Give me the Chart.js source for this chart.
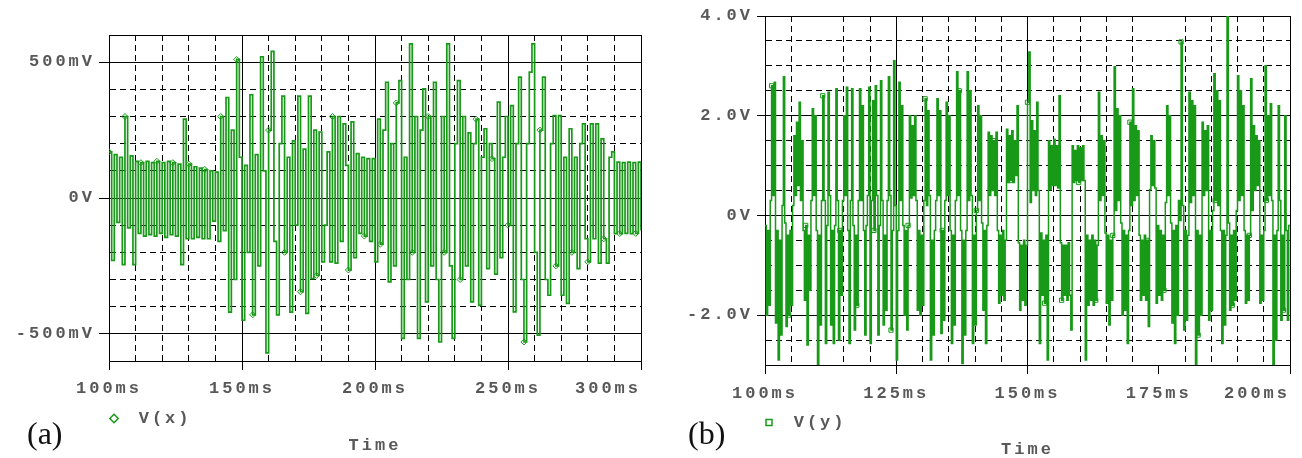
<!DOCTYPE html>
<html>
<head>
<meta charset="utf-8">
<title>V(x) / V(y)</title>
<script src="https://cdn.jsdelivr.net/npm/chart.js@4.4.1/dist/chart.umd.min.js"></script>
<style>
  html, body { margin: 0; padding: 0; background: #fff; }
  #wrap { position: relative; width: 1302px; height: 458px; overflow: hidden; background: #fff; }
  canvas { position: absolute; top: 0; }
  #chartA { left: 0; }
  #chartB { left: 662px; }
  .tag {
    position: absolute;
    font-family: 'Liberation Serif', 'DejaVu Serif', serif;
    font-size: 32px;
    line-height: 1;
    color: #111;
  }
</style>
</head>
<body>
<div id="wrap">
  <canvas id="chartA" width="662" height="458"></canvas>
  <canvas id="chartB" width="640" height="458"></canvas>
  <div class="tag" style="left:27px;top:417px">(a)</div>
  <div class="tag" style="left:688px;top:417px">(b)</div>
</div>
<script>
// V(x) in mV, one level per 1 ms, starting at 100 ms
const vxStart = 100;
const vxStep = 1;
const vx = [
  170, -230, 160, -90, 150, -245, 300, -110, 155, -245,
  135, -130, 130, -140, 135, -135, 130, -140, 135, -130,
  130, -145, 135, -135, 130, -140, 125, -245, 290, -150,
  125, -150, 115, -145, 110, -150, 105, -150, 100, -85,
  95, -160, 300, -120, 370, -420, 250, -300, 510, 150,
  -450, 120, -200, 380, -430, 160, -250, 520, 100, -570,
  250, 540, -160, -430, 200, 375, -200, 150, -420, 210,
  -100, 375, -345, 180, -425, 375, -297, 250, -285, 243,
  -235, -100, 170, -235, 300, -240, 300, -160, 273, 120,
  -265, 280, -220, 163, -130, 150, -140, 145, -160, 145,
  -235, 290, -170, 250, 426, -309, 200, -250, 350, 432,
  -517, 150, -300, 567, -200, 300, -517, 250, 402, -382,
  300, -250, 426, -300, -530, 300, -200, 567, -250, -517,
  200, 432, -300, 300, -250, 240, -382, 200, 290, -395,
  150, 255, -260, 200, 145, -280, 353, -220, 150, 300,
  -100, 340, -419, 200, 445, -300, -530, 200, 463, 567,
  -200, -505, 250, 445, -300, -358, 200, 303, -250, 303,
  -358, 150, -388, 255, -200, 150, -260, 200, 273, -150,
  -235, 273, -150, 273, -240, 218, -150, -240, 150, 170,
  -131, 132, -131, 130, -130, 132, -131, 130, -130, 132,
  -120
];

// V(y) in V, one level per 0.25 ms (four per row = 1 ms), starting at 100 ms
const vyStart = 100;
const vyStep = 0.25;
const vy = [
  -0.2, -2.0, -0.3, -1.8,     // 100
  0.3, 2.6, 0.4, 2.67,
  -2.16, -0.3, -2.9, -0.5,
  -2.4, 0.2, 2.78, -0.15,
  -2.23, -0.4, -2.0, -0.3,
  -1.8, 0.2, 1.6, 0.4,        // 105
  1.87, 0.6, 2.27, 0.3,
  1.5, -0.3, -1.7, -0.2,
  -2.6, -0.4, -1.5, 0.3,
  2.14, 0.4, 2.0, -0.3,
  -3.0, -0.4, -2.2, 0.3,      // 110
  2.4, 0.3, -2.57, -0.2,
  2.47, 0.4, -2.2, -0.3,
  -2.57, -0.2, 2.54, 0.3,
  -2.5, -0.3, -1.6, 0.3,
  2.0, 0.4, 2.57, -0.3,       // 115
  -2.57, 0.3, 2.54, -0.2,
  -2.3, -0.4, -1.8, 0.3,
  2.54, 0.3, 2.2, -0.3,
  -2.4, -0.2, 0.4, 2.57,
  -2.57, 0.3, 2.3, -0.3,      // 120
  2.6, 0.4, -2.4, -0.2,
  2.7, 0.3, -2.2, -0.4,
  -1.9, 0.3, 2.78, 0.4,
  -2.3, -0.3, 3.1, 0.2,
  -2.9, -0.3, 2.67, 0.3,      // 125
  2.2, -0.2, -2.0, -0.3,
  -2.3, -0.2, 2.0, 0.35,
  1.8, 0.4, 2.0, 0.3,
  -1.9, -0.3, -2.0, -0.4,
  -1.8, 0.3, 2.34, 0.2,       // 130
  2.1, 0.4, -2.9, -0.5,
  -2.4, -0.3, 0.3, 2.34,
  0.4, 2.1, -2.37, -0.3,
  -2.1, 0.3, 2.27, 0.4,
  2.0, -0.3, -2.57, -0.4,     // 135
  -2.2, 0.3, 2.88, 0.4,
  2.5, -0.3, -2.97, -0.5,
  -2.4, -0.3, 2.88, 0.3,
  2.5, 0.4, -2.57, -0.4,
  -2.2, 0.1, 2.2, 0.3,        // 140
  2.0, -0.15, -1.9, -0.3,
  -2.57, -0.2, 1.67, 0.4,
  1.6, 0.5, 1.5, 0.4,
  1.67, -0.3, -1.76, -0.4,
  -1.6, -0.3, -1.7, -0.5,     // 145
  1.73, 0.66, 1.6, 0.7,
  1.7, 0.66, 1.5, 0.8,
  2.2, -0.55, -1.9, -0.6,
  -1.7, -0.5, -1.8, -0.6,
  2.27, 3.28, 0.26, 1.9,      // 150
  0.5, 1.7, 0.4, 2.27,
  0.5, -2.57, -0.35, -1.6,
  -0.5, -1.76, -0.4, -2.9,
  1.5, 0.52, 1.4, 0.6,
  1.53, 0.6, 1.4, 0.55,       // 155
  2.4, -0.55, -1.7, -0.6,
  -1.6, -0.6, -1.7, -0.55,
  -1.6, -2.3, 1.4, 0.66,
  1.3, 0.7, 1.4, 0.66,
  1.35, 0.7, 1.4, 0.7,        // 160
  -2.9, -0.4, -1.8, -0.5,
  -1.7, -0.4, -1.8, -0.5,
  -1.7, -0.6, 2.47, 0.3,
  1.6, 0.4, 1.5, -0.35,
  -1.76, -0.4, -2.2, -0.5,    // 165
  -1.7, -0.4, 2.98, 0.1,
  2.14, 0.3, 2.0, -0.15,
  -2.0, -0.3, -1.9, -0.4,
  -2.57, -0.3, 1.87, 0.2,
  2.54, 0.3, 1.8, 0.4,        // 170
  1.7, -0.4, -1.7, -0.5,
  -1.6, -0.4, -1.7, -0.5,
  -2.23, 0.52, 1.6, 0.6,
  1.5, 0.55, -1.76, -0.2,
  -1.6, -0.3, -1.7, -0.4,     // 175
  -1.5, 0.26, 2.2, 0.4,
  2.0, -0.15, -2.16, -0.3,
  -2.57, -0.2, -2.0, 0.3,
  -0.1, 3.48, 0.2, -2.3,
  -0.3, -2.1, -0.4, 2.47,     // 180
  0.26, 2.3, 0.4, 2.2,
  -3.0, -0.3, -2.4, -0.4,
  -2.0, 1.87, 0.4, 1.7,
  0.5, 1.8, -2.1, -0.3,
  -1.9, 0.1, 2.84, 0.3,       // 185
  2.5, 0.2, 2.3, -0.3,
  -2.57, -0.3, -2.2, -0.4,
  4.0, -0.15, -1.9, -0.4,
  -1.8, -0.3, -1.7, 0.1,
  2.8, 0.3, 2.5, 0.4,         // 190
  2.2, -0.3, -1.76, -0.4,
  -1.7, -0.4, 2.74, 0.1,
  1.8, 0.5, 1.6, 0.6,
  1.5, -1.76, -0.4, -1.7,
  -0.3, 3.0, 0.3, 2.0,        // 195
  0.4, 2.24, 0.3, -3.0,
  -0.4, -2.5, -0.3, 2.2,
  0.3, -2.1, -0.4, -1.9,
  2.0, -0.3, -2.1, -0.2,
  -0.2                        // 200
];

// labelled ticks
const timeLabelsA = [100, 150, 200, 250, 300];
const timeLabelsB = [100, 125, 150, 175, 200];
const voltLabelsA = [-500, 0, 500];
const voltLabelsB = [-2, 0, 2, 4];
// time grid lines that the probe window leaves out
const noGridB = [110, 175];

const TRACE = 'rgb(24,154,24)';
const GRAY = '#585858';
const MONO = { family: "'Liberation Mono', 'DejaVu Sans Mono', monospace", size: 17, weight: 'bold' };
const CLEAR = 'rgba(0,0,0,0)';

// the probe font is widely spaced, canvas needs it set on every pass
const spacing = {
  id: 'spacing',
  beforeUpdate(chart) { chart.ctx.letterSpacing = '3px'; },
  beforeLayout(chart) { chart.ctx.letterSpacing = '3px'; },
  beforeDraw(chart) { chart.ctx.letterSpacing = '3px'; }
};

function toPoints(values, start, step) {
  return values.map((v, i) => ({ x: start + i * step, y: v }));
}

function tickValue(ctx) {
  return ctx && ctx.tick ? ctx.tick.value : null;
}

function makePanel(canvas, o) {
  const xMajor = v => o.xLabels.includes(v);
  const yMajor = v => o.yLabels.includes(v) || v === o.yMin || v === o.yMax;
  const lastX = o.xLabels[o.xLabels.length - 1];

  return new Chart(canvas, {
    type: 'line',
    data: {
      datasets: [{
        label: o.name,
        data: o.points,
        stepped: true,
        borderColor: TRACE,
        borderWidth: o.lineWidth,
        pointStyle: o.marker,
        pointRadius: ctx => (ctx.dataIndex % o.markEvery === o.markPhase ? 3 : 0),
        pointBorderColor: TRACE,
        pointBackgroundColor: CLEAR,
        pointBorderWidth: 1
      }]
    },
    options: {
      responsive: false,
      animation: false,
      devicePixelRatio: 1,
      events: [],
      layout: { padding: o.padding },
      scales: {
        x: {
          type: 'linear',
          min: o.xMin,
          max: o.xMax,
          afterFit: s => { s.height = o.xHeight; s.paddingLeft = 0; s.paddingRight = 0; },
          ticks: {
            stepSize: o.xStep,
            autoSkip: false,
            maxRotation: 0,
            padding: o.xPad,
            color: GRAY,
            font: MONO,
            // the last label sits left of its tick, like the probe window
            callback: v => !xMajor(v) ? '' : (v === lastX ? v + 'ms     ' : v + 'ms')
          },
          grid: {
            color: ctx => (o.noGrid.includes(tickValue(ctx)) ? CLEAR : '#000'),
            lineWidth: 1,
            tickLength: 9,
            tickWidth: 1,
            tickBorderDash: [],
            tickColor: ctx => (xMajor(tickValue(ctx)) ? '#000' : CLEAR)
          },
          border: {
            color: '#000',
            dash: ctx => {
              const v = tickValue(ctx);
              return v === null || xMajor(v) || v === o.xMin || v === o.xMax ? [] : [6, 4];
            }
          }
        },
        y: {
          min: o.yMin,
          max: o.yMax,
          afterFit: s => { s.width = o.yWidth; s.paddingTop = 0; s.paddingBottom = 0; },
          ticks: {
            stepSize: o.yStep,
            autoSkip: false,
            padding: o.yPad,
            color: GRAY,
            font: MONO,
            callback: v => (o.yLabels.includes(v) ? o.yFormat(v) : '')
          },
          grid: {
            color: '#000',
            lineWidth: 1,
            tickLength: o.yTick,
            tickWidth: 1,
            tickBorderDash: [],
            tickColor: ctx => (o.yLabels.includes(tickValue(ctx)) ? '#000' : CLEAR)
          },
          border: {
            color: '#000',
            dash: ctx => {
              const v = tickValue(ctx);
              return v === null || yMajor(v) ? [] : [6, 4];
            }
          }
        }
      },
      plugins: {
        tooltip: { enabled: false },
        legend: {
          position: 'bottom',
          align: 'start',
          fullSize: false,
          labels: {
            color: GRAY,
            font: MONO,
            usePointStyle: true,
            boxWidth: 6,
            boxHeight: 6,
            padding: o.legendPad,
            generateLabels: () => [{
              text: ' ' + o.name,
              fillStyle: CLEAR,
              strokeStyle: TRACE,
              lineWidth: 1.5,
              pointStyle: o.marker,
              fontColor: GRAY,
              hidden: false,
              datasetIndex: 0
            }]
          }
        },
        title: {
          display: true,
          text: 'Time',
          position: 'bottom',
          fullSize: false,
          color: GRAY,
          font: { ...MONO, lineHeight: 1 },
          padding: { top: o.titleTop, bottom: 0 }
        }
      }
    },
    plugins: [spacing]
  });
}

makePanel(document.getElementById('chartA'), {
  name: 'V(x)',
  points: toPoints(vx, vxStart, vxStep),
  marker: 'rectRot',
  markEvery: 6,
  markPhase: 0,
  lineWidth: 1.7,
  padding: { top: 35, right: 21, left: 0, bottom: 4 },
  xMin: 100, xMax: 300, xStep: 10, xLabels: timeLabelsA, xHeight: 47, xPad: 9,
  noGrid: [],
  yMin: -600, yMax: 600, yStep: 100, yLabels: voltLabelsA, yWidth: 109, yPad: 4, yTick: 10,
  yFormat: v => (v === 0 ? '0V' : v + 'mV'),
  legendPad: 2,
  titleTop: 0
});

makePanel(document.getElementById('chartB'), {
  name: 'V(y)',
  points: toPoints(vy, vyStart, vyStep),
  marker: 'rect',
  markEvery: 13,
  markPhase: 5,
  lineWidth: 1.5,
  padding: { top: 16, right: 12, left: 0, bottom: 0 },
  xMin: 100, xMax: 200, xStep: 5, xLabels: timeLabelsB, xHeight: 48, xPad: 10,
  noGrid: noGridB,
  yMin: -3, yMax: 4, yStep: 0.5, yLabels: voltLabelsB, yWidth: 103, yPad: 4, yTick: 8,
  yFormat: v => (v === 0 ? '0V' : v.toFixed(1) + 'V'),
  legendPad: 1,
  titleTop: 0
});
</script>
</body>
</html>
